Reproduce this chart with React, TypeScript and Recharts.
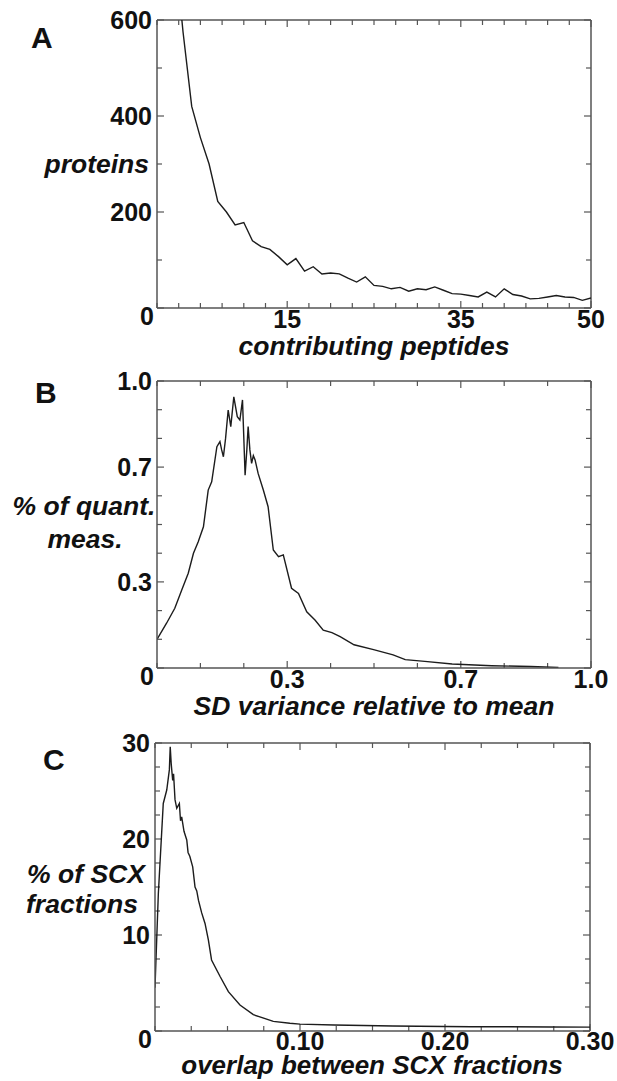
import React from 'react'
import { LineChart, Line, XAxis, YAxis, ReferenceLine } from 'recharts'

// panel A: proteins vs contributing peptides
const peptideCount = [2, 3, 4, 5, 6, 7, 8, 9, 10, 11, 12, 13, 14, 15, 16, 17, 18, 19, 20, 21, 22, 23, 24, 25, 26, 27, 28, 29, 30, 31, 32, 33, 34, 35, 36, 37, 38, 39, 40, 41, 42, 43, 44, 45, 46, 47, 48, 49, 50]
const proteinCount = [760, 575, 420, 355, 300, 222, 200, 173, 178, 140, 128, 122, 107, 90, 103, 77, 86, 71, 73, 71, 62, 54, 65, 47, 45, 40, 43, 35, 40, 38, 44, 37, 30, 29, 26, 23, 33, 23, 40, 28, 25, 19, 20, 23, 26, 23, 22, 16, 21]
const aXTicks = [0, 2.5, 5, 7.5, 10, 12.5, 15, 17.5, 20, 22.5, 25, 27.5, 30, 32.5, 35, 37.5, 40, 42.5, 45, 47.5, 50]
const aYTicks = [0, 100, 200, 300, 400, 500, 600]
const aXLabelValues = [15, 35, 50]
const aXLabelText = ['15', '35', '50']
const aYLabelValues = [0, 200, 400, 600]
const aYLabelText = ['0', '200', '400', '600']

// panel B: % of quant. measurements vs SD variance
const sdVariance = [0, 0.022, 0.041, 0.057, 0.072, 0.084, 0.095, 0.107, 0.118, 0.126, 0.138, 0.145, 0.149, 0.153, 0.158, 0.164, 0.17, 0.177, 0.185, 0.191, 0.197, 0.203, 0.207, 0.21, 0.214, 0.218, 0.222, 0.226, 0.233, 0.245, 0.256, 0.268, 0.28, 0.291, 0.31, 0.326, 0.345, 0.364, 0.383, 0.403, 0.422, 0.454, 0.499, 0.544, 0.572, 0.617, 0.68, 0.771, 0.861, 0.925]
const quantPct = [0.1, 0.156, 0.208, 0.272, 0.33, 0.4, 0.44, 0.492, 0.62, 0.649, 0.771, 0.789, 0.76, 0.736, 0.8, 0.899, 0.841, 0.945, 0.876, 0.864, 0.934, 0.672, 0.76, 0.841, 0.76, 0.713, 0.74, 0.725, 0.678, 0.62, 0.562, 0.411, 0.388, 0.394, 0.278, 0.26, 0.196, 0.167, 0.132, 0.123, 0.109, 0.081, 0.064, 0.046, 0.029, 0.023, 0.014, 0.008, 0.005, 0.002]
const bXTicks = [0, 0.1, 0.2, 0.3, 0.4, 0.5, 0.6, 0.7, 0.8, 0.9, 1.0]
const bYTicks = [0, 0.1, 0.2, 0.3, 0.4, 0.5, 0.6, 0.7, 0.8, 0.9, 1.0]
const bXLabelValues = [0.3, 0.7, 1.0]
const bXLabelText = ['0.3', '0.7', '1.0']
const bYLabelValues = [0, 0.3, 0.7, 1.0]
const bYLabelText = ['0', '0.3', '0.7', '1.0']

// panel C: % of SCX fractions vs overlap
const scxOverlap = [0, 0.0023, 0.0057, 0.0081, 0.0099, 0.0105, 0.0112, 0.0122, 0.0128, 0.0138, 0.015, 0.0168, 0.0176, 0.0184, 0.02, 0.0219, 0.0228, 0.024, 0.026, 0.0276, 0.0288, 0.03, 0.0322, 0.0345, 0.0368, 0.039, 0.0448, 0.0506, 0.0586, 0.0678, 0.0816, 0.093, 0.1, 0.1235, 0.164, 0.218, 0.273, 0.3]
const scxPct = [4.5, 14.3, 23.7, 25.1, 27.2, 29.6, 27.8, 26.1, 26.8, 24.1, 23.2, 23.7, 21.9, 22.3, 20.8, 19.9, 18.6, 18.2, 17.1, 15.0, 14.6, 13.6, 12.3, 11.2, 9.5, 7.4, 5.7, 4.1, 2.7, 1.7, 1.0, 0.8, 0.72, 0.62, 0.52, 0.45, 0.42, 0.4]
const cXTicks = [0, 0.025, 0.05, 0.075, 0.1, 0.125, 0.15, 0.175, 0.2, 0.225, 0.25, 0.275, 0.3]
const cYTicks = [0, 2.5, 5, 7.5, 10, 12.5, 15, 17.5, 20, 22.5, 25, 27.5, 30]
const cXLabelValues = [0.1, 0.2, 0.3]
const cXLabelText = ['0.10', '0.20', '0.30']
const cYLabelValues = [0, 10, 20, 30]
const cYLabelText = ['0', '10', '20', '30']

const FONT = '"Liberation Sans", Arial, Helvetica, sans-serif'
const INK = '#111'
const FRAME = '#555'
const W = 617

const tickLabelStyle = { fontFamily: FONT, fontWeight: 700, fontSize: 25, fill: INK }

const isLabelled = (values: number[], v: number) => values.findIndex(l => Math.abs(l - v) < 1e-9)

// only text labels here, the tick marks themselves are reference segments
const leftTick = (values: number[], text: string[]) => (props: any) => {
  const { x, y, payload } = props
  const idx = isLabelled(values, payload.value)
  if (idx < 0) return <g />
  const zero = payload.value === 0
  return (
    <text x={x - (zero ? 3 : 5)} y={y + (zero ? 8 : 0)} dy="0.36em" textAnchor="end" style={tickLabelStyle}>
      {text[idx]}
    </text>
  )
}

const bottomTick = (values: number[], text: string[], gap: number) => (props: any) => {
  const { x, y, payload } = props
  const idx = isLabelled(values, payload.value)
  if (idx < 0) return <g />
  return (
    <text x={x} y={y + gap} textAnchor="middle" style={tickLabelStyle}>
      {text[idx]}
    </text>
  )
}

interface PanelProps {
  top: number
  height: number
  plotTop: number
  plotBottom: number
  plotLeft: number
  plotRight: number
  labelGap: number
  xs: number[]
  ys: number[]
  xDomain: [number, number]
  yDomain: [number, number]
  xTicks: number[]
  yTicks: number[]
  xLabelValues: number[]
  xLabelText: string[]
  yLabelValues: number[]
  yLabelText: string[]
}

const Panel: React.FC<PanelProps> = p => {
  const data = p.xs.map((x, i) => ({ x, y: p.ys[i] }))
  const [x0, x1] = p.xDomain
  const [y0, y1] = p.yDomain
  // data units per pixel, used to give inward tick marks a fixed pixel length
  const ux = (x1 - x0) / (p.plotRight - p.plotLeft)
  const uy = (y1 - y0) / (p.plotBottom - p.plotTop)
  const frame = { stroke: FRAME, strokeWidth: 1.5 }
  const tickStroke = { stroke: FRAME, strokeWidth: 1.2 }

  const marks: React.ReactNode[] = []
  p.xTicks.forEach((v, i) => {
    const len = isLabelled(p.xLabelValues, v) >= 0 ? 7 : 5
    marks.push(
      <ReferenceLine key={`xb${i}`} xAxisId="b" yAxisId="l" ifOverflow="visible" {...tickStroke}
        segment={[{ x: v, y: y0 }, { x: v, y: y0 + len * uy }]} />,
      <ReferenceLine key={`xt${i}`} xAxisId="b" yAxisId="l" ifOverflow="visible" {...tickStroke}
        segment={[{ x: v, y: y1 }, { x: v, y: y1 - len * uy }]} />
    )
  })
  p.yTicks.forEach((v, i) => {
    const len = isLabelled(p.yLabelValues, v) >= 0 ? 7 : 5
    marks.push(
      <ReferenceLine key={`yl${i}`} xAxisId="b" yAxisId="l" ifOverflow="visible" {...tickStroke}
        segment={[{ x: x0, y: v }, { x: x0 + len * ux, y: v }]} />,
      <ReferenceLine key={`yr${i}`} xAxisId="b" yAxisId="l" ifOverflow="visible" {...tickStroke}
        segment={[{ x: x1, y: v }, { x: x1 - len * ux, y: v }]} />
    )
  })

  return (
    <div style={{ position: 'absolute', left: 0, top: p.top }}>
      <LineChart
        width={W} height={p.height} data={data}
        margin={{ top: p.plotTop - p.top, right: W - p.plotRight, bottom: 0, left: 0 }}
      >
        <XAxis
          xAxisId="b" dataKey="x" type="number" domain={p.xDomain} ticks={p.xTicks}
          interval={0} height={p.top + p.height - p.plotBottom} tickSize={0} tickMargin={0}
          tickLine={false} axisLine={frame} allowDataOverflow
          tick={bottomTick(p.xLabelValues, p.xLabelText, p.labelGap)}
        />
        <YAxis
          yAxisId="l" type="number" domain={p.yDomain} ticks={p.yTicks}
          interval={0} width={p.plotLeft} tickSize={0} tickMargin={0}
          tickLine={false} axisLine={frame} allowDataOverflow
          tick={leftTick(p.yLabelValues, p.yLabelText)}
        />
        <ReferenceLine xAxisId="b" yAxisId="l" y={y1} ifOverflow="visible" {...frame} />
        <ReferenceLine xAxisId="b" yAxisId="l" x={x1} ifOverflow="visible" {...frame} />
        {marks}
        <Line
          xAxisId="b" yAxisId="l" type="linear" dataKey="y" stroke="#1c1c1c" strokeWidth={1.4}
          dot={false} activeDot={false} isAnimationActive={false}
        />
      </LineChart>
    </div>
  )
}

const titleStyle = { fontFamily: FONT, fontWeight: 700, fontStyle: 'italic' as const, fontSize: 26.5, fill: INK }
const letterStyle = { fontFamily: FONT, fontWeight: 700, fontSize: 30, fill: INK }

export default function App() {
  return (
    <div style={{ position: 'absolute', left: 0, top: 0, width: W, height: 1081, background: '#fff', overflow: 'hidden' }}>
      <Panel
        top={0} height={340} plotTop={20} plotBottom={308} plotLeft={157} plotRight={591} labelGap={20}
        xs={peptideCount} ys={proteinCount} xDomain={[0, 50]} yDomain={[0, 600]}
        xTicks={aXTicks} yTicks={aYTicks}
        xLabelValues={aXLabelValues} xLabelText={aXLabelText}
        yLabelValues={aYLabelValues} yLabelText={aYLabelText}
      />
      <Panel
        top={350} height={350} plotTop={381} plotBottom={668} plotLeft={157} plotRight={591} labelGap={20}
        xs={sdVariance} ys={quantPct} xDomain={[0, 1]} yDomain={[0, 1]}
        xTicks={bXTicks} yTicks={bYTicks}
        xLabelValues={bXLabelValues} xLabelText={bXLabelText}
        yLabelValues={bYLabelValues} yLabelText={bYLabelText}
      />
      <Panel
        top={710} height={360} plotTop={743} plotBottom={1031} plotLeft={155} plotRight={590} labelGap={19}
        xs={scxOverlap} ys={scxPct} xDomain={[0, 0.3]} yDomain={[0, 30]}
        xTicks={cXTicks} yTicks={cYTicks}
        xLabelValues={cXLabelValues} xLabelText={cXLabelText}
        yLabelValues={cYLabelValues} yLabelText={cYLabelText}
      />
      <svg width={W} height={1081} style={{ position: 'absolute', left: 0, top: 0, pointerEvents: 'none' }}>
        <text x={31} y={48} style={letterStyle}>A</text>
        <text x={35} y={403} style={letterStyle}>B</text>
        <text x={43} y={770} style={letterStyle}>C</text>

        <text x={149} y={173} textAnchor="end" style={titleStyle}>proteins</text>
        <text x={374} y={355} textAnchor="middle" style={titleStyle}>contributing peptides</text>

        <text x={84} y={515} textAnchor="middle" style={titleStyle}>% of quant.</text>
        <text x={85} y={548} textAnchor="middle" style={titleStyle}>meas.</text>
        <text x={374} y={715} textAnchor="middle" style={titleStyle}>SD variance relative to mean</text>

        <text x={86} y={883} textAnchor="middle" style={titleStyle}>% of SCX</text>
        <text x={82} y={913} textAnchor="middle" style={titleStyle}>fractions</text>
        <text x={372} y={1074} textAnchor="middle" style={{ ...titleStyle, fontSize: 26 }}>overlap between SCX fractions</text>
      </svg>
    </div>
  )
}
